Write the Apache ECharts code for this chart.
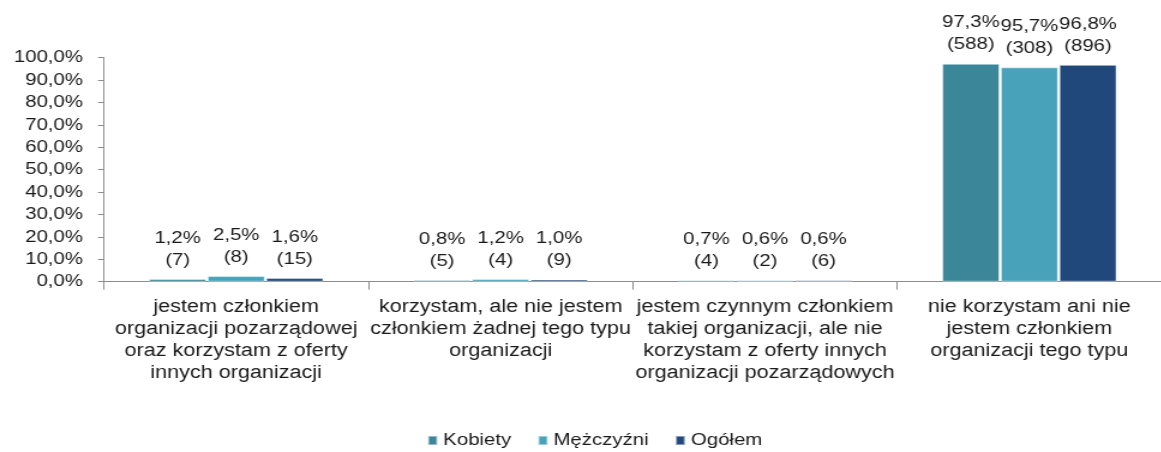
<!DOCTYPE html>
<html><head><meta charset="utf-8">
<script src="https://cdn.jsdelivr.net/npm/echarts@6/dist/echarts.min.js"></script>
<style>
html,body{margin:0;padding:0;background:#fff;overflow:hidden;width:1161px;height:452px}
#c{width:967.5px;height:452px;transform:scaleX(1.2);transform-origin:0 0}
</style>
</head><body><div id="c"></div>
<script>
const categories = [
  "jestem członkiem\norganizacji pozarządowej\noraz korzystam z oferty\ninnych organizacji",
  "korzystam, ale nie jestem\nczłonkiem żadnej tego typu\norganizacji",
  "jestem czynnym członkiem\ntakiej organizacji, ale nie\nkorzystam z oferty innych\norganizacji pozarządowych",
  "nie korzystam ani nie\njestem członkiem\norganizacji tego typu"
];
const seriesNames = ["Kobiety", "Mężczyźni", "Ogółem"];
const kobiety = [1.2, 0.8, 0.7, 97.3];
const kobietyN = [7, 5, 4, 588];
const mezczyzni = [2.5, 1.2, 0.6, 95.7];
const mezczyzniN = [8, 4, 2, 308];
const ogolem = [1.6, 1.0, 0.6, 96.8];
const ogolemN = [15, 9, 6, 896];
const yTicks = [0, 10, 20, 30, 40, 50, 60, 70, 80, 90, 100];

const colors = ["#3B8698", "#48A3BA", "#21487A"];
const font = "Liberation Sans, Arial, sans-serif";
const fmt = v => v.toFixed(1).replace('.', ',') + '%';
const SX = 1.2;

function mk(name, vals, counts, color) {
  return {
    name, type: 'bar', data: vals,
    barCategoryGap: '34%', barGap: '2%',
    itemStyle: { color, borderColor: 'rgba(255,255,255,0.45)', borderWidth: 1 },
    label: {
      show: true, position: 'top', distance: 8,
      fontFamily: font, fontSize: 17, color: '#1a1a1a', lineHeight: 22,
      formatter: p => fmt(p.value) + '\n(' + counts[p.dataIndex] + ')'
    }
  };
}

const chart = echarts.init(document.getElementById('c'), null, { renderer: 'canvas' });
chart.setOption({
  animation: false,
  textStyle: { fontFamily: font },
  legend: {
    top: 427, left: 421 / SX, itemWidth: 9 / SX, itemHeight: 9, itemGap: 26 / SX,
    icon: 'rect',
    textStyle: { fontFamily: font, fontSize: 17, color: '#1a1a1a', padding: [0, 0, 0, 0] },
    data: seriesNames
  },
  grid: { left: 104 / SX, top: 57.7, width: 1067 / SX, height: 224, containLabel: false },
  xAxis: {
    type: 'category', data: categories,
    axisLine: { lineStyle: { color: '#8c8c8c', width: 1 } },
    axisTick: { show: true, length: 8, alignWithLabel: false, lineStyle: { color: '#8c8c8c' } },
    axisLabel: { interval: 0, margin: 14, fontFamily: font, fontSize: 18, color: '#1a1a1a', lineHeight: 22 }
  },
  yAxis: {
    type: 'value', min: 0, max: 100, interval: 10,
    splitLine: { show: false },
    axisLine: { show: true, lineStyle: { color: '#8c8c8c' } },
    axisTick: { show: true, length: 5, lineStyle: { color: '#8c8c8c' } },
    axisLabel: { margin: 17.5, fontFamily: font, fontSize: 17, color: '#1a1a1a', formatter: v => yTicks.includes(v) ? fmt(v) : '' }
  },
  series: [
    mk(seriesNames[0], kobiety, kobietyN, colors[0]),
    mk(seriesNames[1], mezczyzni, mezczyzniN, colors[1]),
    mk(seriesNames[2], ogolem, ogolemN, colors[2])
  ]
});
</script></body></html>
